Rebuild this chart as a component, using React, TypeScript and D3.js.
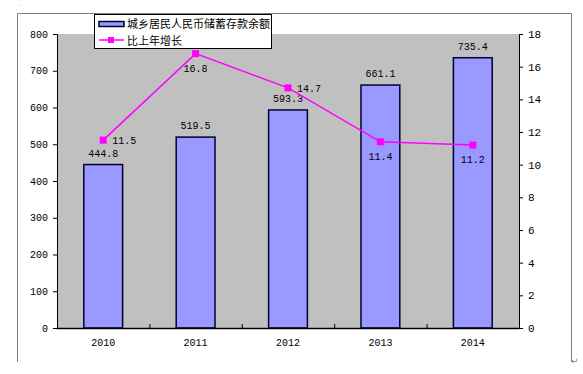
import * as d3 from "d3";
import { useEffect, useRef } from "react";

const years = ["2010", "2011", "2012", "2013", "2014"];
const savings = [444.8, 519.5, 593.3, 661.1, 735.4];
const growth = [11.5, 16.8, 14.7, 11.4, 11.2];
const growthLabelSide = ["right", "below", "right", "below", "below"];
const leftTicks = [0, 100, 200, 300, 400, 500, 600, 700, 800];
const rightTicks = [0, 2, 4, 6, 8, 10, 12, 14, 16, 18];
const barName = "城乡居民人民币储蓄存款余额";
const lineName = "比上年增长";

const W = 583;
const H = 374;

export default function App() {
  const svgRef = useRef<SVGSVGElement>(null);

  useEffect(() => {
    if (!svgRef.current) return;
    const svg = d3.select(svgRef.current);
    svg.selectAll("*").remove();

    const numFont = "'Liberation Mono', 'DejaVu Sans Mono', monospace";
    const cjkFont = "'Noto Sans CJK SC', sans-serif";

    // 绘图区
    const plot = { left: 57, right: 519, top: 34, bottom: 328 };

    const x = d3
      .scaleBand<string>()
      .domain(years)
      .range([plot.left, plot.right])
      .paddingInner(0)
      .paddingOuter(0);
    const yL = d3.scaleLinear().domain([0, 800]).range([plot.bottom, plot.top]);
    const yR = d3.scaleLinear().domain([0, 18]).range([plot.bottom, plot.top]);

    // 外框（左、上、右）
    svg
      .append("path")
      .attr("d", `M17.5,362 L17.5,13.5 L571.5,13.5 L571.5,362`)
      .attr("fill", "none")
      .attr("stroke", "#808080")
      .attr("stroke-width", 1);

    svg
      .append("rect")
      .attr("x", plot.left)
      .attr("y", plot.top)
      .attr("width", plot.right - plot.left)
      .attr("height", plot.bottom - plot.top)
      .attr("fill", "#c0c0c0");

    // 柱子
    const barW = x.bandwidth() * 0.42;
    svg
      .append("g")
      .selectAll("rect")
      .data(savings)
      .join("rect")
      .attr("x", (_, i) => x(years[i])! + x.bandwidth() / 2 - barW / 2)
      .attr("y", (d) => yL(d))
      .attr("width", barW)
      .attr("height", (d) => yL(0) - yL(d))
      .attr("fill", "#9999ff")
      .attr("stroke", "#000033")
      .attr("stroke-width", 1.5);

    svg
      .append("g")
      .selectAll("text")
      .data(savings)
      .join("text")
      .attr("x", (_, i) => x(years[i])! + x.bandwidth() / 2)
      .attr("y", (d) => yL(d) - 8)
      .attr("text-anchor", "middle")
      .attr("font-family", numFont)
      .attr("font-size", 10)
      .attr("fill", "#000")
      .text((d) => d.toFixed(1));

    // 左轴
    const axL = svg
      .append("g")
      .attr("transform", `translate(${plot.left},0)`)
      .call(d3.axisLeft(yL).tickValues(leftTicks).tickSize(4).tickPadding(5));
    axL.select(".domain").attr("stroke", "#000");
    axL.selectAll("line").attr("stroke", "#000");
    axL
      .selectAll("text")
      .attr("font-family", numFont)
      .attr("font-size", 10)
      .attr("fill", "#000");

    // 右轴
    const axR = svg
      .append("g")
      .attr("transform", `translate(${plot.right},0)`)
      .call(d3.axisRight(yR).tickValues(rightTicks).tickSize(4).tickPadding(5));
    axR.select(".domain").attr("stroke", "#000");
    axR.selectAll("line").attr("stroke", "#000");
    axR
      .selectAll("text")
      .attr("font-family", numFont)
      .attr("font-size", 11)
      .attr("fill", "#000");

    // 横轴
    const axB = svg.append("g");
    axB
      .append("line")
      .attr("x1", plot.left)
      .attr("x2", plot.right)
      .attr("y1", plot.bottom + 0.5)
      .attr("y2", plot.bottom + 0.5)
      .attr("stroke", "#000")
      .attr("stroke-width", 1.5);
    axB
      .selectAll("line.tk")
      .data(years.slice(1))
      .join("line")
      .attr("class", "tk")
      .attr("x1", (d) => x(d)! + 0.5)
      .attr("x2", (d) => x(d)! + 0.5)
      .attr("y1", plot.bottom)
      .attr("y2", plot.bottom - 4)
      .attr("stroke", "#000");
    axB
      .selectAll("text")
      .data(years)
      .join("text")
      .attr("x", (d) => x(d)! + x.bandwidth() / 2)
      .attr("y", plot.bottom + 18)
      .attr("text-anchor", "middle")
      .attr("font-family", numFont)
      .attr("font-size", 10)
      .attr("fill", "#000")
      .text((d) => d);

    // 折线
    const line = d3
      .line<number>()
      .x((_, i) => x(years[i])! + x.bandwidth() / 2)
      .y((d) => yR(d));
    svg
      .append("path")
      .datum(growth)
      .attr("d", line)
      .attr("fill", "none")
      .attr("stroke", "#ff00ff")
      .attr("stroke-width", 1.5);
    svg
      .append("g")
      .selectAll("rect")
      .data(growth)
      .join("rect")
      .attr("x", (_, i) => x(years[i])! + x.bandwidth() / 2 - 3.5)
      .attr("y", (d) => yR(d) - 3.5)
      .attr("width", 7)
      .attr("height", 7)
      .attr("fill", "#ff00ff");
    svg
      .append("g")
      .selectAll("text")
      .data(growth)
      .join("text")
      .attr("x", (_, i) =>
        x(years[i])! + x.bandwidth() / 2 + (growthLabelSide[i] === "right" ? 9 : 0)
      )
      .attr("y", (d, i) => yR(d) + (growthLabelSide[i] === "right" ? 4 : 18))
      .attr("text-anchor", (_, i) => (growthLabelSide[i] === "right" ? "start" : "middle"))
      .attr("font-family", numFont)
      .attr("font-size", 10)
      .attr("fill", "#000")
      .text((d) => d.toFixed(1));

    // 图例
    const lg = svg.append("g").attr("transform", "translate(94,14)");
    lg.append("rect")
      .attr("x", 0.5)
      .attr("y", 0.5)
      .attr("width", 177)
      .attr("height", 34)
      .attr("fill", "#fff")
      .attr("stroke", "#000");
    lg.append("rect")
      .attr("x", 5)
      .attr("y", 7.5)
      .attr("width", 25)
      .attr("height", 5)
      .attr("fill", "#9999ff")
      .attr("stroke", "#000033")
      .attr("stroke-width", 1.5);
    lg.append("text")
      .attr("x", 33)
      .attr("y", 14)
      .attr("font-family", cjkFont)
      .attr("font-size", 11)
      .attr("fill", "#000")
      .text(barName);
    lg.append("line")
      .attr("x1", 5)
      .attr("x2", 30)
      .attr("y1", 26)
      .attr("y2", 26)
      .attr("stroke", "#ff00ff")
      .attr("stroke-width", 1.5);
    lg.append("rect")
      .attr("x", 14)
      .attr("y", 23)
      .attr("width", 6)
      .attr("height", 6)
      .attr("fill", "#ff00ff");
    lg.append("text")
      .attr("x", 33)
      .attr("y", 31)
      .attr("font-family", cjkFont)
      .attr("font-size", 11)
      .attr("fill", "#000")
      .text(lineName);

    // 文档里的小标记
    svg
      .append("text")
      .attr("x", 20)
      .attr("y", 6)
      .attr("font-size", 8)
      .attr("fill", "#999")
      .text(".");
    svg
      .append("text")
      .attr("x", 571)
      .attr("y", 364)
      .attr("font-family", "'DejaVu Sans', sans-serif")
      .attr("font-size", 9)
      .attr("fill", "#888")
      .text("↵");
  }, []);

  return (
    <svg
      ref={svgRef}
      width={W}
      height={H}
      style={{ position: "absolute", left: 0, top: 0, background: "#fff" }}
    />
  );
}
